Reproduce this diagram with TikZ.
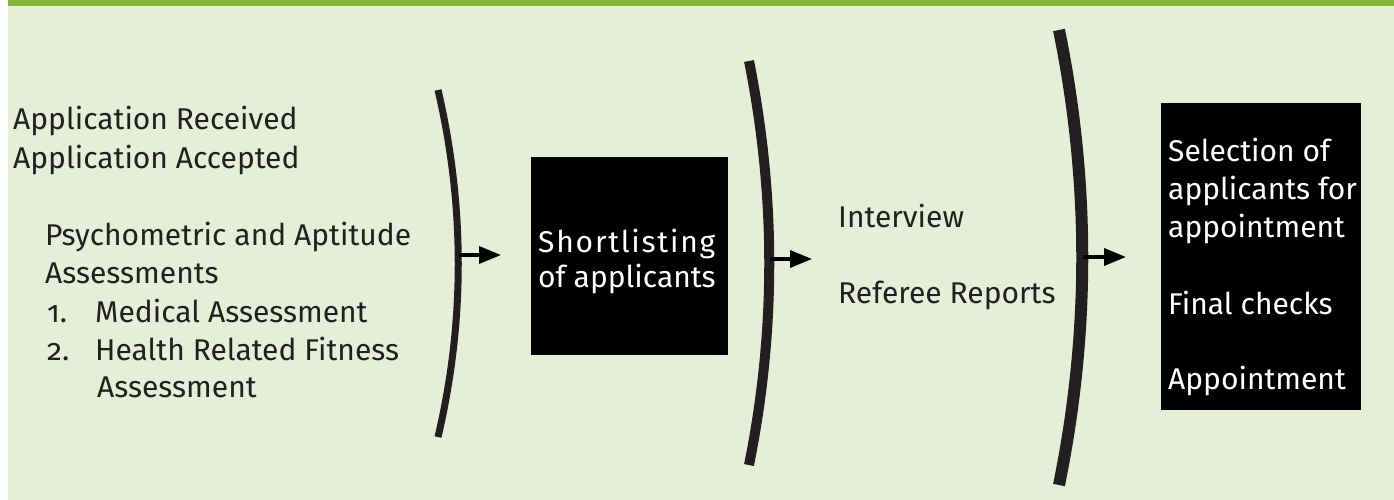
\documentclass[tikz,border=0pt]{standalone}
\usepackage{fontspec}
\setmainfont{Fira Sans}[Numbers=OldStyle]
\usetikzlibrary{arrows.meta}
\definecolor{pagegreen}{HTML}{E5EFD8}
\definecolor{bargreen}{HTML}{84B53A}
\definecolor{inkdark}{HTML}{231F20}
\tikzset{
  txt/.style={anchor=base west, inner sep=0pt, text=inkdark, font=\fontsize{30}{38}\selectfont},
  blackbox/.style={fill=black, draw=none, inner sep=0pt, anchor=north west},
  wtxt/.style={anchor=base west, inner sep=0pt, text=white, font=\fontsize{30}{38}\selectfont},
  stagebar/.style={draw=inkdark, line cap=butt},
  flow/.style={draw=black, line width=3.5pt, -{Triangle[length=22pt,width=17pt]}},
}
\begin{document}
\begin{tikzpicture}[x=1pt,y=-1pt]
\useasboundingbox (0,0) rectangle (1394,500);
% page background and header rule
\fill[white] (0,0) rectangle (1394,500);
\fill[pagegreen] (8,0) rectangle (1394,500);
\fill[bargreen] (8,0) rectangle (1394,6);

% first column: initial steps
\node[txt] (recv) at (13,130) {Application Received};
\node[txt] (acc) at (13,168) {Application Accepted};
\node[txt] (psy) at (45,245) {Psychometric and Aptitude};
\node[txt] (psyb) at (45,283) {Assessments};
\node[txt] (n1) at (47,322) {1.};
\node[txt] (med) at (95,322) {Medical Assessment};
\node[txt] (n2) at (47,360) {2.};
\node[txt] (hrf) at (95,360) {Health Related Fitness};
\node[txt] (hrfb) at (97,397) {Assessment};

% stage separators: gently bowed bars
\draw[stagebar, line width=7pt] (438,90) .. controls (465,206) and (465,322) .. (438,437);
\coordinate (s1) at (459,255);
\draw[stagebar, line width=10pt] (749,61) .. controls (776,196) and (776,331) .. (749,465);
\coordinate (s2) at (770,259);
\draw[stagebar, line width=12pt] (1059,30) .. controls (1090,182) and (1090,333) .. (1059,485);
\coordinate (s3) at (1083,257);

% shortlisting box
\node[blackbox, minimum width=197pt, minimum height=198pt] (short) at (531,157) {};
\node[wtxt] (shortA) at (538,252) {\addfontfeature{LetterSpace=6}Shortlisting};
\node[wtxt] (shortB) at (538,287) {of applicants};

% third column
\node[txt] (intv) at (838,227) {Interview};
\node[txt] (refs) at (838,303) {Referee Reports};

% final box
\node[blackbox, minimum width=200pt, minimum height=307pt] (final) at (1161,103) {};
\node[wtxt] (sel1) at (1168,161) {Selection of};
\node[wtxt] (sel2) at (1168,199) {applicants for};
\node[wtxt] (sel3) at (1168,237) {appointment};
\node[wtxt] (chk) at (1168,314) {Final checks};
\node[wtxt] (appt) at (1168,389) {Appointment};

% arrows between stages
\coordinate (a1) at (501,255);
\coordinate (a2) at (812,259);
\coordinate (a3) at (1126,257);
\draw[flow] (s1) -- (a1);
\draw[flow] (s2) -- (a2);
\draw[flow] (s3) -- (a3);
\end{tikzpicture}
\end{document}
